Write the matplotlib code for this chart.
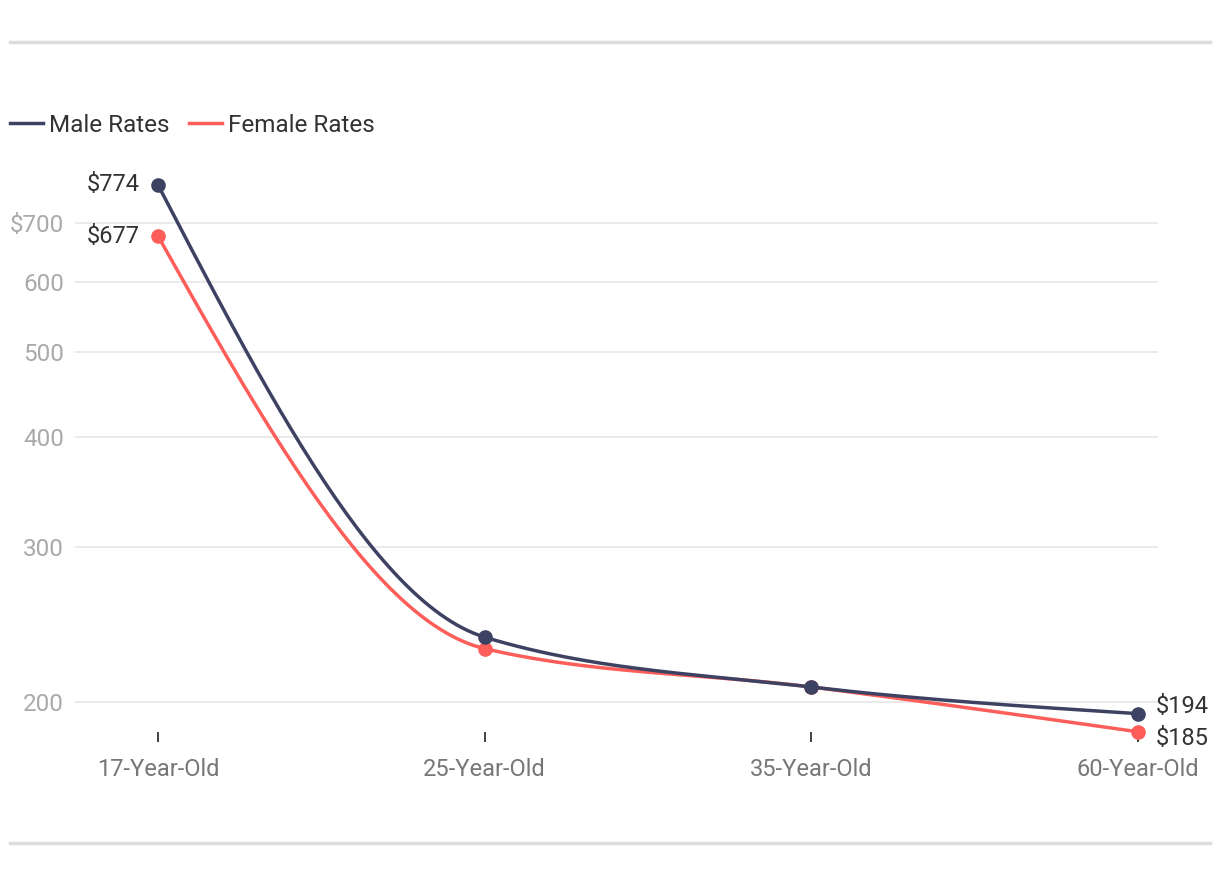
import numpy as np
import matplotlib.pyplot as plt
from matplotlib.lines import Line2D

plt.rcParams['font.family'] = ['Roboto', 'DejaVu Sans']

ages = ["17-Year-Old", "25-Year-Old", "35-Year-Old", "60-Year-Old"]
male_rates = [774, 237, 208, 194]
female_rates = [677, 230, 208, 185]
y_ticks = [200, 300, 400, 500, 600, 700]

male_color = "#3d4263"
female_color = "#fd5e59"


def monotone_curve(xs, ys, n=60):
    # monotone-x cubic like d3's curveMonotoneX, in log space (axis is log)
    xs = np.asarray(xs, float)
    ys = np.log10(np.asarray(ys, float))
    h = np.diff(xs)
    s = np.diff(ys) / h
    m = np.zeros_like(ys)
    for i in range(1, len(ys) - 1):
        p = (s[i - 1] * h[i] + s[i] * h[i - 1]) / (h[i - 1] + h[i])
        m[i] = (np.sign(s[i - 1]) + np.sign(s[i])) * min(abs(s[i - 1]), abs(s[i]), 0.5 * abs(p))
    m[0] = (3 * s[0] - m[1]) / 2
    m[-1] = (3 * s[-1] - m[-2]) / 2
    px, py = [], []
    for i in range(len(xs) - 1):
        t = np.linspace(0, 1, n)
        h00 = 2 * t**3 - 3 * t**2 + 1
        h10 = t**3 - 2 * t**2 + t
        h01 = -2 * t**3 + 3 * t**2
        h11 = t**3 - t**2
        seg = h00 * ys[i] + h10 * h[i] * m[i] + h01 * ys[i + 1] + h11 * h[i] * m[i + 1]
        px.extend(xs[i] + t * h[i])
        py.extend(seg)
    return np.array(px), 10 ** np.array(py)


fig = plt.figure(figsize=(12.2, 8.76), dpi=100)
W, H = 1220, 876
ax = fig.add_axes([75 / W, 1 - 732 / H, (1158 - 75) / W, (732 - 150) / H])

x = np.arange(len(ages))
series = [(male_rates, male_color, "Male Rates", 4),
          (female_rates, female_color, "Female Rates", 3)]
for vals, col, name, z in series:
    cx, cy = monotone_curve(x, vals)
    ax.plot(cx, cy, color=col, lw=2.5, label=name, clip_on=False, zorder=z)
    ax.plot(x, vals, "o", color=col, ms=9.5, clip_on=False, zorder=z + 0.5)

ax.set_yscale("log")
ax.set_ylim(184.9, 848)
ax.set_xlim(-83 / 326.67, 3 + 20 / 326.67)
ax.set_yticks(y_ticks)
ax.set_yticklabels(["$700" if v == 700 else str(v) for v in y_ticks])
ax.yaxis.set_minor_locator(plt.NullLocator())
ax.yaxis.set_minor_formatter(plt.NullFormatter())
ax.set_xticks(x)
ax.set_xticklabels(ages)

ax.grid(axis="y", color="#e6e6e6", lw=1.2)
ax.set_axisbelow(True)
for s in ax.spines.values():
    s.set_visible(False)
ax.tick_params(axis="y", length=0, pad=8, labelsize=17.5, labelcolor="#aaaaaa")
ax.tick_params(axis="x", length=7.5, width=1.3, color="#333333", pad=11,
               labelsize=17, labelcolor="#777777", direction="out")

# data labels at the ends
lab = dict(textcoords="offset points", fontsize=17, color="#333333", va="center")
ax.annotate(f"${male_rates[0]}", (0, male_rates[0]), xytext=(-13, 0), ha="right", **lab)
ax.annotate(f"${female_rates[0]}", (0, female_rates[0]), xytext=(-13, 0), ha="right", **lab)
ax.annotate(f"${male_rates[-1]}", (3, male_rates[-1]), xytext=(13, 5), ha="left", **lab)
ax.annotate(f"${female_rates[-1]}", (3, female_rates[-1]), xytext=(13, -5), ha="left", **lab)

fig.legend(loc="center left", bbox_to_anchor=(10 / W, 1 - 125 / H), ncol=2,
           frameon=False, fontsize=17.5, handlelength=1.35, handletextpad=0.25,
           columnspacing=0.8, borderpad=0, borderaxespad=0, labelcolor="#333333")

# top and bottom rules
fig.add_artist(Line2D([10 / W, 1210 / W], [1 - 42 / H] * 2, color="#dddddd", lw=2.5))
fig.add_artist(Line2D([10 / W, 1210 / W], [1 - 843 / H] * 2, color="#dddddd", lw=2.5))

fig.savefig("out.png", dpi=100, facecolor="white")
